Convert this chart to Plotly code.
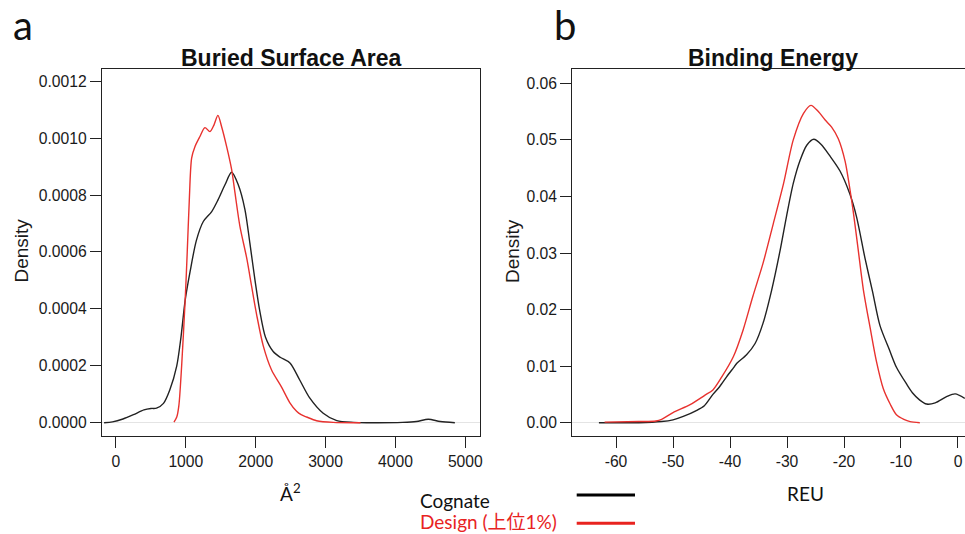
import plotly.graph_objects as go

# Buried surface area density (panel a)
bsa_cognate_x = [-170, -50, 100, 250, 400, 500, 580, 680, 770, 870, 930, 990, 1060, 1150, 1250,
                 1370, 1460, 1560, 1655, 1750, 1845, 1917, 1990, 2060, 2140, 2250, 2350, 2490,
                 2630, 2775, 2966, 3160, 3400, 3600, 4100, 4300, 4470, 4640, 4850]
bsa_cognate_y = [0, 0.000003, 0.000013, 0.000028, 0.000045, 0.00005, 0.000051, 0.000068, 0.000115,
                 0.0002, 0.0003, 0.00043, 0.00053, 0.00064, 0.000707, 0.000742, 0.000783, 0.000836,
                 0.00088, 0.000836, 0.00075, 0.00063, 0.0005, 0.00039, 0.0003, 0.00025, 0.00023,
                 0.00021, 0.00015, 0.000086, 0.000033, 0.000007, 0.000001, 0, 0.000001, 0.000004,
                 0.000012, 0.000004, 0]
bsa_design_x = [830, 870, 900, 940, 990, 1020, 1049, 1083, 1130, 1200, 1273, 1345, 1402, 1459, 1512,
                1584, 1655, 1702, 1774, 1870, 1941, 2013, 2108, 2227, 2370, 2489, 2585, 2650, 2728,
                2871, 3109, 3500]
bsa_design_y = [0.000002, 0.00002, 0.00006, 0.0002, 0.00043, 0.0006, 0.00078, 0.00093, 0.00097,
                0.001005, 0.001037, 0.001023, 0.001046, 0.00108, 0.00104, 0.00097, 0.00089, 0.00081,
                0.00069, 0.00058, 0.00048, 0.00038, 0.00027, 0.000185, 0.000125, 0.00007, 0.00004,
                0.000028, 0.00002, 0.000007, 0.000001, 0]

# Binding energy density (panel b)
be_cognate_x = [-63, -56, -52, -50, -48.2, -46, -44.5, -43, -41.8, -40.6, -39.4, -38.8, -37.1, -35.6,
                -34.2, -32.7, -31.2, -30.1, -28.9, -27.7, -26.5, -25.3, -24, -22.5, -20.7, -19,
                -17.8, -16.3, -15, -13.7, -12, -10.8, -9, -8, -6.7, -5.5, -4, -2, -0.5, 1.2]
be_cognate_y = [0, 0, 0.0002, 0.0005, 0.0011, 0.0021, 0.003, 0.005, 0.0064, 0.0081, 0.0097, 0.0105,
                0.012, 0.014, 0.0176, 0.0234, 0.0305, 0.0364, 0.0423, 0.0464, 0.0491, 0.0501,
                0.0492, 0.0472, 0.0445, 0.0405, 0.0364, 0.029, 0.0232, 0.0172, 0.0128, 0.0098,
                0.0068, 0.0053, 0.004, 0.0033, 0.0035, 0.0046, 0.0051, 0.0043]
be_design_x = [-62, -56, -53, -52, -50, -47, -44.5, -43, -41.5, -39.4, -37.7, -36, -34.2, -32.4,
               -30.6, -28.9, -27.1, -25.8, -24.5, -23.3, -22.2, -21, -19.8, -19, -18.4, -17.5,
               -16.6, -15.4, -14.3, -13.1, -11.9, -10.8, -9.5, -8.4, -6.7]
be_design_y = [0.0001, 0.0002, 0.0003, 0.0006, 0.0018, 0.0032, 0.0048, 0.0058, 0.008, 0.0117,
               0.0164, 0.0223, 0.0282, 0.0352, 0.0423, 0.05, 0.0547, 0.0561, 0.055, 0.0535, 0.0523,
               0.0502, 0.0462, 0.0415, 0.0375, 0.0305, 0.0235, 0.0167, 0.0108, 0.006, 0.0033,
               0.0014, 0.0006, 0.0002, 0]

# tick values / labels
bsa_xticks = [0, 1000, 2000, 3000, 4000, 5000]
bsa_yticks = [0, 0.0002, 0.0004, 0.0006, 0.0008, 0.001, 0.0012]
be_xticks = [-60, -50, -40, -30, -20, -10, 0]
be_xticklabels = ["-60", "-50", "-40", "-30", "-20", "-10", "0"]
be_yticks = [0, 0.01, 0.02, 0.03, 0.04, 0.05, 0.06]

series_names = ["Cognate", "Design (上位1%)"]
BLACK = "#222222"
RED = "#e8322f"

W, H = 965, 534
AX_FONT = dict(family="Liberation Sans, Arial, sans-serif", size=15.7, color="#1a1a1a")
LABEL_FONT = "Lato, Noto Sans CJK JP, sans-serif"


def px(x):
    return x / W


def py(y):
    return 1 - y / H


fig = go.Figure()

fig.add_trace(go.Scatter(x=bsa_cognate_x, y=bsa_cognate_y, mode="lines", name=series_names[0],
                         line=dict(color=BLACK, width=1.4, shape="spline", smoothing=0.8),
                         xaxis="x", yaxis="y"))
fig.add_trace(go.Scatter(x=bsa_design_x, y=bsa_design_y, mode="lines", name=series_names[1],
                         line=dict(color=RED, width=1.4, shape="spline", smoothing=0.8),
                         xaxis="x", yaxis="y"))
fig.add_trace(go.Scatter(x=be_cognate_x, y=be_cognate_y, mode="lines", name=series_names[0],
                         line=dict(color=BLACK, width=1.4, shape="spline", smoothing=0.8),
                         xaxis="x2", yaxis="y2"))
fig.add_trace(go.Scatter(x=be_design_x, y=be_design_y, mode="lines", name=series_names[1],
                         line=dict(color=RED, width=1.4, shape="spline", smoothing=0.8),
                         xaxis="x2", yaxis="y2"))

common_axis = dict(showgrid=False, showline=True, linecolor=BLACK, linewidth=1.3,
                   ticks="outside", ticklen=11, tickwidth=1.3, tickcolor=BLACK,
                   tickfont=AX_FONT, automargin=False)

ydom = [py(435.7), py(69)]

fig.update_layout(
    width=W, height=H,
    template="none",
    showlegend=False,
    plot_bgcolor="white", paper_bgcolor="white",
    margin=dict(l=0, r=0, t=0, b=0),
    xaxis=dict(common_axis, domain=[px(102), px(480)], range=[-200, 5210],
               tickvals=bsa_xticks, mirror=True, zeroline=False, anchor="y"),
    yaxis=dict(common_axis, domain=ydom, range=[-0.0000457, 0.001243],
               tickvals=bsa_yticks, tickformat=".4f", mirror=True, zeroline=True,
               zerolinecolor="#e4e4e4", zerolinewidth=1, anchor="x"),
    xaxis2=dict(common_axis, domain=[px(572.3), 1], range=[-67.67, 1.23],
                tickvals=be_xticks, ticktext=be_xticklabels, mirror=True,
                zeroline=False, anchor="y2"),
    yaxis2=dict(common_axis, domain=ydom, range=[-0.0023, 0.06253],
                tickvals=be_yticks, tickformat=".2f", mirror=False, zeroline=True,
                zerolinecolor="#e4e4e4", zerolinewidth=1, anchor="x2"),
)

title_font = dict(family="Liberation Sans, Arial, sans-serif", size=23, color="#111111")
ylab_font = dict(family="Liberation Sans, Arial, sans-serif", size=19, color="#1a1a1a")
cal_font = dict(family=LABEL_FONT, size=19, color="#111111")

annotations = [
    dict(text="<b>Buried Surface Area</b>", x=px(291), y=py(58), font=title_font),
    dict(text="<b>Binding Energy</b>", x=px(772.5), y=py(58), font=title_font),
    dict(text="Density", x=px(21.5), y=py(251), textangle=-90, font=ylab_font),
    dict(text="Density", x=px(513), y=py(251), textangle=-90, font=ylab_font),
    dict(text="Å<sup>2</sup>", x=px(290), y=py(492), font=cal_font),
    dict(text="REU", x=px(805), y=py(493), font=cal_font),
    dict(text="a", x=px(23), y=py(25), font=dict(family=LABEL_FONT, size=40, color="#111111")),
    dict(text="b", x=px(565), y=py(25), font=dict(family=LABEL_FONT, size=40, color="#111111")),
    dict(text=series_names[0], x=px(417.7), y=py(500), xanchor="left", font=cal_font),
    dict(text=series_names[1], x=px(417.7), y=py(521), xanchor="left",
         font=dict(family=LABEL_FONT, size=19, color="#e8231f")),
]
for a in annotations:
    a.setdefault("xanchor", "center")
    a.update(xref="paper", yref="paper", yanchor="middle", showarrow=False)
fig.update_layout(annotations=annotations)

# legend key lines
fig.add_shape(type="line", xref="paper", yref="paper", x0=px(576.7), x1=px(635),
              y0=py(495), y1=py(495), line=dict(color="#000000", width=3))
fig.add_shape(type="line", xref="paper", yref="paper", x0=px(576.7), x1=px(635),
              y0=py(523.3), y1=py(523.3), line=dict(color="#e8231f", width=3))

# drop the browser's default body margin so the figure sits at the window corner
fig.write_html("out.html", config={"displayModeBar": False},
               post_script="document.body.style.margin='0px';")
